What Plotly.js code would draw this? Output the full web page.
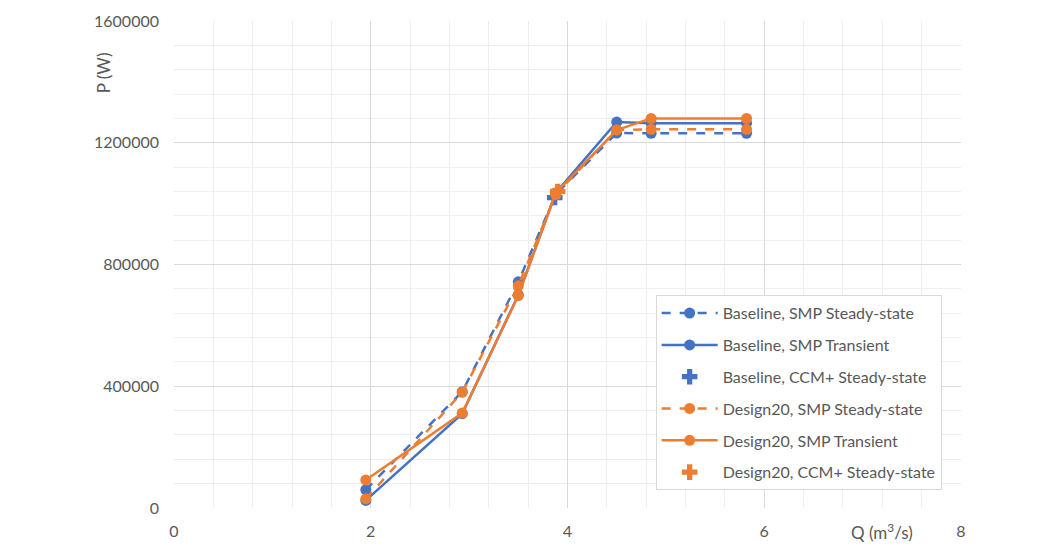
<!DOCTYPE html>
<html>
<head>
<meta charset="utf-8">
<script src="https://cdn.plot.ly/plotly-3.0.1.min.js"></script>
<style>
  html, body { margin: 0; padding: 0; background: #fff; }
  #grafica { width: 1050px; height: 550px; }
</style>
</head>
<body>
<div id="grafica"></div>
<script>
// Caudal Q (m3/s) y potencia P (W)
const q = [1.95, 2.93, 3.5, 3.88, 4.5, 4.85, 5.82];

const baseSmpSteady = [60000, 382000, 743000, 1030000, 1232000, 1231000, 1231000];
const baseSmpTrans = [25000, 310000, 700000, 1035000, 1268000, 1264000, 1264000];
const baseCcmQ = [3.87];
const baseCcmP = [1020000];

const d20SmpSteady = [30000, 380000, 730000, 1030000, 1242000, 1244000, 1244000];
const d20SmpTrans = [92000, 312000, 698000, 1035000, 1242000, 1280000, 1280000];
const d20CcmQ = [3.9];
const d20CcmP = [1040000];

const names = [
    "Baseline, SMP Steady-state",
    "Baseline, SMP Transient",
    "Baseline, CCM+ Steady-state",
    "Design20, SMP Steady-state",
    "Design20, SMP Transient",
    "Design20, CCM+ Steady-state"
];

const azul = '#4472C4';
const naranja = '#ED7D31';

function serie(x, y, nombre, color, dash, i) {
    return {
        x: x, y: y, name: nombre, type: 'scatter', mode: 'lines+markers',
        legendgroup: 'g' + i,
        line: { color: color, width: 2.5, dash: dash },
        marker: { color: color, size: 11, symbol: 'circle' }
    };
}

function cruz(x, y, nombre, color, i) {
    return {
        x: x, y: y, name: nombre, type: 'scatter', mode: 'markers',
        legendgroup: 'g' + i,
        marker: { color: color, size: 13, symbol: 'cross' }
    };
}

const data = [
    serie(q, baseSmpSteady, names[0], azul, 'dash', 0),
    serie(q, baseSmpTrans, names[1], azul, 'solid', 1),
    cruz(baseCcmQ, baseCcmP, names[2], azul, 2),
    serie(q, d20SmpSteady, names[3], naranja, 'dash', 3),
    serie(q, d20SmpTrans, names[4], naranja, 'solid', 4),
    cruz(d20CcmQ, d20CcmP, names[5], naranja, 5)
];

const fuente = { family: 'Lato, "Open Sans", sans-serif', size: 16, color: '#595959' };
const fuenteTitulo = { family: 'Lato, "Open Sans", sans-serif', size: 17, color: '#595959' };

const layout = {
    width: 1050, height: 550,
    margin: { l: 174, r: 89, t: 21, b: 42 },
    paper_bgcolor: '#fff', plot_bgcolor: '#fff',
    font: fuente,
    showlegend: true,
    legend: {
        x: 0.612, y: 0.437, xanchor: 'left', yanchor: 'top',
        bgcolor: '#fff', bordercolor: '#d9d9d9', borderwidth: 1,
        tracegroupgap: 8, itemwidth: 56,
        font: fuente
    },
    xaxis: {
        range: [0, 8], dtick: 2, tick0: 0,
        showgrid: true, gridcolor: '#d9d9d9', gridwidth: 1,
        zeroline: false, showline: false, ticks: '',
        ticklabelstandoff: 12,
        minor: { dtick: 0.4, showgrid: true, gridcolor: '#eeeeee', gridwidth: 1 },
        tickfont: fuente
    },
    yaxis: {
        range: [0, 1600000], dtick: 400000, tick0: 0,
        showgrid: true, gridcolor: '#d9d9d9', gridwidth: 1,
        zeroline: false, showline: false, ticks: '',
        tickformat: 'd', ticklabelstandoff: 14,
        minor: { dtick: 80000, showgrid: true, gridcolor: '#eeeeee', gridwidth: 1 },
        tickfont: fuente
    },
    annotations: [
        {
            text: 'Q (m<sup>3</sup>/s)', xref: 'x', yref: 'paper',
            x: 7.2, y: -0.02, yanchor: 'top', showarrow: false, font: fuenteTitulo
        },
        {
            text: 'P (W)', xref: 'paper', yref: 'paper', textangle: -90,
            x: -0.09, y: 0.893, xanchor: 'center', yanchor: 'middle',
            showarrow: false, font: fuenteTitulo
        }
    ]
};

Plotly.newPlot('grafica', data, layout, { displayModeBar: false, staticPlot: true });
</script>
</body>
</html>
